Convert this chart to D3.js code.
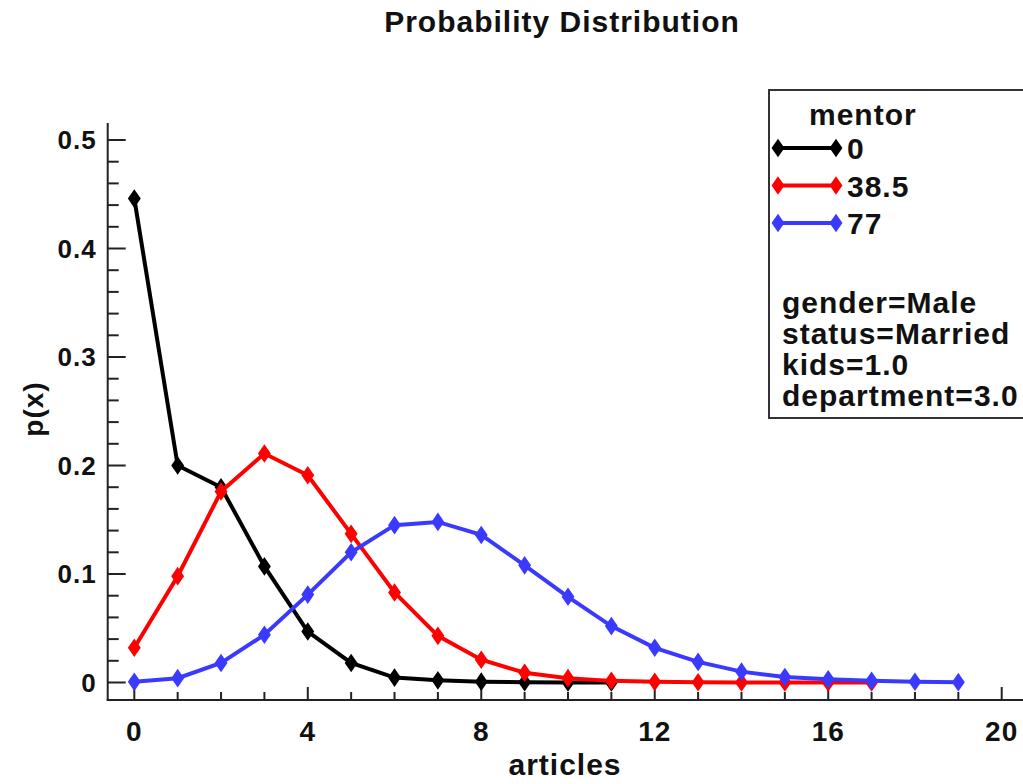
<!DOCTYPE html>
<html>
<head>
<meta charset="utf-8">
<script src="https://cdn.jsdelivr.net/npm/d3@7"></script>
<style>
body { margin: 0; background: #fff; }
text { font-family: "Liberation Sans", Arial, sans-serif; font-weight: bold; fill: #111; letter-spacing: 1px; }
</style>
</head>
<body>
<script>
// values
var mentorLabels = ['0', '38.5', '77']
var mentorColors = ['#000000', '#ff0000', '#3a3aff']

var articles0 = [0, 1, 2, 3, 4, 5, 6, 7, 8, 9, 10, 11]
var pMentor0 = [0.446, 0.200, 0.180, 0.107, 0.047, 0.018, 0.0045, 0.002, 0.0008, 0.0003, 0.0001, 0.00003]

var articles1 = [0, 1, 2, 3, 4, 5, 6, 7, 8, 9, 10, 11, 12, 13, 14, 15, 16, 17]
var pMentor385 = [0.032, 0.098, 0.176, 0.211, 0.191, 0.137, 0.083, 0.043, 0.021, 0.009, 0.004, 0.0015, 0.0006, 0.0002, 0.0001, 0.00003, 0.00001, 0]

var articles2 = [0, 1, 2, 3, 4, 5, 6, 7, 8, 9, 10, 11, 12, 13, 14, 15, 16, 17, 18, 19]
var pMentor77 = [0.0006, 0.004, 0.018, 0.044, 0.081, 0.120, 0.145, 0.148, 0.136, 0.108, 0.079, 0.052, 0.032, 0.019, 0.010, 0.005, 0.003, 0.0015, 0.0007, 0.0003]

var covariates = ['gender=Male', 'status=Married', 'kids=1.0', 'department=3.0']
var xTicks = [0, 4, 8, 12, 16, 20]
var yTicks = [0, 0.1, 0.2, 0.3, 0.4, 0.5]

var svg = d3.select('body').append('svg')
  .attr('width', 1023)
  .attr('height', 784)

var x = d3.scaleLinear().domain([0, 20]).range([134.3, 1001.7])
var y = d3.scaleLinear().domain([0, 0.5]).range([682.5, 140])

// title and axis labels
svg.append('text')
  .attr('x', 562).attr('y', 32)
  .attr('text-anchor', 'middle')
  .style('font-size', '30px')
  .text('Probability Distribution')

svg.append('text')
  .attr('x', 565).attr('y', 775)
  .attr('text-anchor', 'middle')
  .style('font-size', '30px')
  .text('articles')

svg.append('text')
  .attr('transform', 'translate(43,409) rotate(-90)')
  .attr('text-anchor', 'middle')
  .style('font-size', '28px')
  .text('p(x)')

// y axis: major ticks at 0.1, minor at 0.02, drawn inward
var yAxis = svg.append('g').attr('transform', 'translate(107.7,0)')
yAxis.append('line')
  .attr('x1', 0).attr('x2', 0).attr('y1', 123).attr('y2', 700)
  .attr('stroke', '#222').attr('stroke-width', 2)
yAxis.selectAll('.minor').data(d3.range(0, 26).map(function(i){ return i * 0.02 }))
  .enter().append('line')
  .attr('x1', 0)
  .attr('x2', function(d, i){ return i % 5 == 0 ? 18 : 11 })
  .attr('y1', function(d){ return y(d) })
  .attr('y2', function(d){ return y(d) })
  .attr('stroke', '#222').attr('stroke-width', 2)
yAxis.selectAll('.lab').data(yTicks)
  .enter().append('text')
  .attr('x', -11)
  .attr('y', function(d){ return y(d) })
  .attr('dy', '0.35em')
  .attr('text-anchor', 'end')
  .style('font-size', '26px')
  .text(function(d){ return d == 0 ? '0' : d3.format('.1f')(d) })

// x axis: major ticks every 4, minor every 1, pointing up
var xAxis = svg.append('g').attr('transform', 'translate(0,700)')
xAxis.append('line')
  .attr('x1', 106.7).attr('x2', 1023).attr('y1', 0).attr('y2', 0)
  .attr('stroke', '#222').attr('stroke-width', 2)
xAxis.selectAll('.minor').data(d3.range(0, 21))
  .enter().append('line')
  .attr('x1', function(d){ return x(d) })
  .attr('x2', function(d){ return x(d) })
  .attr('y1', 0)
  .attr('y2', function(d){ return d % 4 == 0 ? -13 : -8 })
  .attr('stroke', '#222').attr('stroke-width', 2)
xAxis.selectAll('.lab').data(xTicks)
  .enter().append('text')
  .attr('x', function(d){ return x(d) })
  .attr('y', 41)
  .attr('text-anchor', 'middle')
  .style('font-size', '28px')
  .text(function(d){ return d })

// series
var series = [
  { xs: articles0, ys: pMentor0 },
  { xs: articles1, ys: pMentor385 },
  { xs: articles2, ys: pMentor77 }
]

var line = d3.line()
  .x(function(d){ return x(d[0]) })
  .y(function(d){ return y(d[1]) })

var diamond = d3.symbol().type(d3.symbolDiamond).size(100)

series.forEach(function(s, k){
  var pts = d3.zip(s.xs, s.ys)
  svg.append('path')
    .attr('d', line(pts))
    .attr('fill', 'none')
    .attr('stroke', mentorColors[k])
    .attr('stroke-width', 4)
  svg.selectAll('.m' + k).data(pts)
    .enter().append('path')
    .attr('d', diamond)
    .attr('transform', function(d){ return 'translate(' + x(d[0]) + ',' + y(d[1]) + ') scale(1.2,1)' })
    .attr('fill', mentorColors[k])
})

// legend box
var legend = svg.append('g')
legend.append('rect')
  .attr('x', 769).attr('y', 90)
  .attr('width', 270).attr('height', 328)
  .attr('fill', 'none')
  .attr('stroke', '#333').attr('stroke-width', 2)

legend.append('text')
  .attr('x', 809).attr('y', 125)
  .style('font-size', '30px')
  .text('mentor')

var legY = d3.scalePoint().domain(mentorLabels).range([148, 223])

mentorLabels.forEach(function(lab, k){
  var ly = legY(lab)
  legend.append('line')
    .attr('x1', 778).attr('x2', 836)
    .attr('y1', ly).attr('y2', ly)
    .attr('stroke', mentorColors[k]).attr('stroke-width', 4)
  ;[778, 836].forEach(function(px){
    legend.append('path')
      .attr('d', diamond)
      .attr('transform', 'translate(' + px + ',' + ly + ') scale(1.2,1)')
      .attr('fill', mentorColors[k])
  })
  legend.append('text')
    .attr('x', 847).attr('y', ly + 11)
    .style('font-size', '30px')
    .text(lab)
})

legend.selectAll('.cov').data(covariates)
  .enter().append('text')
  .attr('x', 782)
  .attr('y', function(d, i){ return 313 + i * 31 })
  .style('font-size', '30px')
  .text(function(d){ return d })
</script>
</body>
</html>
